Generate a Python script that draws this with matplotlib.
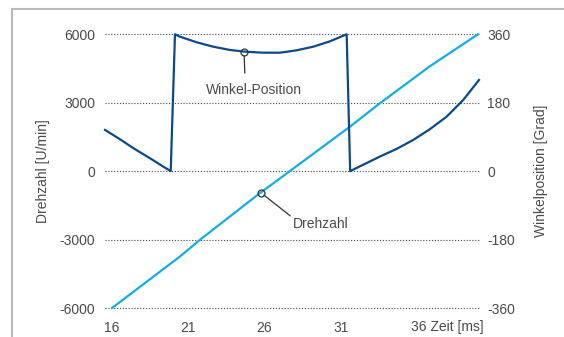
import matplotlib
matplotlib.use("Agg")
import matplotlib.pyplot as plt
from matplotlib.lines import Line2D
from matplotlib.transforms import ScaledTranslation

plt.rcParams["font.family"] = ["Liberation Sans", "DejaVu Sans"]
plt.rcParams["axes.unicode_minus"] = False

# Drehzahl (hellblau), U/min
zeit_drehzahl = [16.0, 20.46, 21.77, 25.75, 26.89, 31.61, 33.57, 36.85, 40.0]
drehzahl = [-6000, -3740, -3009, -937, -381, 1953, 2978, 4600, 6000]

# Winkelposition (dunkelblau), Grad
zeit_winkel = [15.54, 16.52, 17.38, 18.69, 19.28, 19.85,
               20.13, 20.46, 21.55, 22.64, 23.74, 24.72, 25.92, 27.02,
               28.11, 29.20, 30.30, 31.39,
               31.62, 32.59, 33.57, 34.67, 35.76, 36.85, 37.95, 39.04, 40.07]
winkel = [108.5, 84, 61, 29, 14, 0,
          360, 353.7, 339.0, 327.4, 318.8, 314.3, 311.6, 311.6,
          317.9, 327.4, 341.6, 360,
          0, 19.2, 38.4, 58.6, 82.2, 110.4, 143.5, 187.4, 239.9]

x_ticks = [16, 21, 26, 31]
y_ticks_links = [-6000, -3000, 0, 3000, 6000]
y_ticks_rechts = [-360, -180, 0, 180, 360]

dunkelblau = "#0b4a86"
hellblau = "#14aee0"
textfarbe = "#4a4a4a"

W, H = 564, 337
fig = plt.figure(figsize=(W / 100, H / 100), dpi=100)
ax = fig.add_axes([105 / W, 1 - 308 / H, (479 - 105) / W, (308 - 34.3) / H])
ax2 = ax.twinx()

ax.set_xlim(15.54, 40.07)
ax.set_ylim(-6000, 6000)
ax2.set_ylim(-360, 360)

for a in (ax, ax2):
    for s in a.spines.values():
        s.set_visible(False)
    a.patch.set_visible(False)

for y in y_ticks_links:
    ax.axhline(y, color="#444444", lw=0.8, ls=(0, (1, 1.6)), clip_on=False, zorder=1)

ax.plot(zeit_drehzahl, drehzahl, color=hellblau, lw=1.6, clip_on=False, zorder=3)
ax2.plot(zeit_winkel, winkel, color=dunkelblau, lw=1.6, clip_on=False, zorder=3)

ax.set_xticks(x_ticks)
ax.set_xticklabels([str(t) for t in x_ticks])
ax.set_yticks(y_ticks_links)
ax2.set_yticks(y_ticks_rechts)
ax.tick_params(axis="x", length=0, pad=9, labelsize=10, labelcolor=textfarbe)
ax.tick_params(axis="y", length=0, pad=7, labelsize=10, labelcolor=textfarbe)
ax2.tick_params(axis="y", length=0, pad=6, labelsize=10, labelcolor=textfarbe)

# letzte x-Beschriftung mit Achsentitel
ax.text(35.62, -6000, "36 Zeit [ms]", ha="left", va="top", fontsize=10, color=textfarbe,
        transform=ax.transData + ScaledTranslation(0, -9 / 72, fig.dpi_scale_trans))

ax.set_ylabel("Drehzahl [U/min]", fontsize=10, color=textfarbe)
ax.yaxis.set_label_coords((50 - 105) / (479 - 105), 0.5)
ax2.set_ylabel("Winkelposition [Grad]", fontsize=10, color=textfarbe, rotation=90)
ax2.yaxis.set_label_coords((534 - 105) / (479 - 105), 0.5)

# Annotationen
ax2.plot([24.66], [314.3], marker="o", ms=5, mfc="none", mec="#333333", mew=0.9, zorder=5)
ax2.annotate("Winkel-Position", xy=(24.66, 314.3), xytext=(25.3, 214),
             ha="center", va="center", fontsize=10, color=textfarbe,
             arrowprops=dict(arrowstyle="-", color="#333333", lw=0.9,
                             shrinkA=5, shrinkB=3, relpos=(0.41, 1.0)))
ax.plot([25.75], [-937], marker="o", ms=5, mfc="none", mec="#333333", mew=0.9, zorder=5)
ax.annotate("Drehzahl", xy=(25.75, -937), xytext=(27.87, -2300),
            ha="left", va="center", fontsize=10, color=textfarbe,
            arrowprops=dict(arrowstyle="-", color="#333333", lw=0.9,
                            shrinkA=0, shrinkB=3, relpos=(0.0, 0.9)))

# grauer Rahmen oben und links
fig.add_artist(Line2D([12 / W, 1], [1 - 9 / H, 1 - 9 / H], color="#bbbbbb", lw=1.5))
fig.add_artist(Line2D([12 / W, 12 / W], [0, 1 - 9 / H], color="#bbbbbb", lw=1.5))

fig.savefig("out.png", dpi=100)
